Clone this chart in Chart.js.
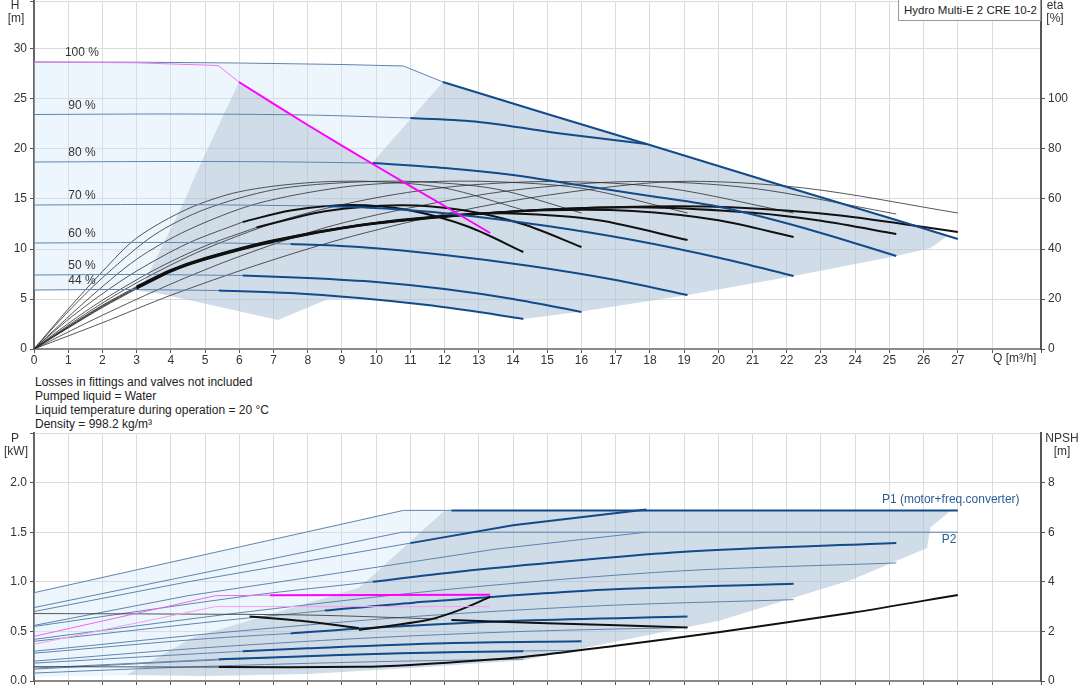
<!DOCTYPE html>
<html>
<head>
<meta charset="utf-8">
<script src="https://cdn.jsdelivr.net/npm/chart.js@4.4.1/dist/chart.umd.min.js"></script>
<style>
  body { margin: 0; background: #fff; font-family: "Liberation Sans", Arial, sans-serif; }
  #wrap { position: relative; width: 1082px; height: 700px; overflow: hidden; }
  canvas { position: absolute; left: 0; }
  #notes { position: absolute; left: 35px; top: 375px; font-size: 12px; line-height: 14px; color: #222; }
  #badge { position: absolute; left: 898px; top: -1px; width: 143px; height: 22px; border: 1px solid #999;
           background: #fff; font-size: 11.5px; line-height: 21px; padding-left: 5px; box-sizing: border-box;
           color: #222; white-space: nowrap; overflow: hidden; }
</style>
</head>
<body>
<div id="wrap">
  <canvas id="top" width="1082" height="372" style="top:0"></canvas>
  <div id="notes">
    Losses in fittings and valves not included<br>
    Pumped liquid = Water<br>
    Liquid temperature during operation = 20 °C<br>
    Density = 998.2 kg/m³
  </div>
  <canvas id="bot" width="1082" height="270" style="top:430px"></canvas>
  <div id="badge">Hydro Multi-E 2 CRE 10-2</div>
</div>
<script>
// ---- pump curves H(Q), [Q m3/h, H m], per speed ----
const speedLabels = ['100 %', '90 %', '80 %', '70 %', '60 %', '50 %', '44 %'];
const h100 = [[0,28.7],[3,28.68],[6,28.6],[9,28.45],[10.8,28.3],[11.95,26.7],[15,23.5],[18,20.4],[22.1,16.1],[25.2,12.9],[27,11.0]];
const h90 = [[0,23.45],[4,23.5],[8,23.4],[11,23.1],[13,22.7],[15.5,21.5],[17.9,20.5]];
const h80 = [[0,18.7],[4,18.75],[7,18.72],[9.9,18.6],[12,18.1],[14,17.4],[15.9,16.4],[18,15.3],[20.05,14.2],[22.5,12.1],[25.2,9.3]];
const h70 = [[0,14.4],[4,14.45],[8.5,14.3],[10.5,14.0],[12.5,13.4],[15,12.3],[17.5,10.9],[20.05,9.1],[22.2,7.3]];
const h60 = [[0,10.6],[4,10.65],[7.5,10.5],[9.5,10.2],[12,9.4],[14.5,8.3],[17,6.9],[19.1,5.4]];
const h50 = [[0,7.4],[3,7.45],[6.1,7.35],[8,7.1],[10,6.7],[12,6.0],[14,5.0],[16,3.7]];
const h44 = [[0,5.9],[2.5,5.95],[5.4,5.85],[7.5,5.6],[9.5,5.1],[11.5,4.4],[13,3.7],[14.3,3.0]];
const dutyH = [[0,28.7],[3,28.62],[5.38,28.35],[5.99,26.7],[8,22.4],[10,18.3],[12,14.3],[13.33,11.6]];

// ---- efficiency, [Q, eta %] : pump (thin) and total (thin, then thick) ----
const etaPump = [
  [[0,0],[1,16],[2,31],[3,44.4],[4.5,56.1],[6,62.9],[8,66.5],[9.9,67],[12,64.4],[14.3,55.6]],
  [[0,0],[1,15],[2,28.5],[3.5,45.5],[5,55.9],[7,63.7],[9,66.5],[11.1,67],[13.5,64.0],[16,54.4]],
  [[0,0],[1.5,19],[3,35.9],[4.5,47.6],[6.5,58.1],[9,64.7],[11,66.7],[13.3,67],[16,64.3],[19.1,54.4]],
  [[0,0],[1.5,14],[3,26.5],[5,40],[7.5,52.5],[10,60.5],[12.5,65.3],[15.4,67],[18.5,64.4],[22.2,54.4]],
  [[0,0],[2,13.5],[4,26],[6,37],[8.5,48.5],[11,56.5],[14,63.5],[17.5,67],[21,64.3],[25.2,54.0]],
  [[0,0],[2,10.5],[4,21.5],[6.5,33.5],[9,44],[12,54],[15,61.5],[18.75,67],[22.5,64.4],[27,54.4]]
];
const etaTotal = [
  [[0,0],[1,11.8],[2,22.1],[3,31.2],[4.5,42.3],[6.1,50.8],[7.5,55.4],[9.3,57.6],[11,55.4],[12.7,48.9],[14.3,38.8]],
  [[0,0],[1,10.2],[2,19.5],[3.5,31.5],[5,41.2],[6.5,48.6],[8.5,55.1],[10.7,57.5],[12.5,55.6],[14.3,49.9],[16,40.8]],
  [[0,0],[1,9],[2,17.5],[3,25],[4,31.6],[5,36.4],[7,43.5],[9.5,49.6],[12,53.3],[14,54.2],[16.5,51.5],[19.1,43.6]],
  [[0,0],[1,8.8],[2,17.2],[3,24.7],[4,31.4],[5,36.2],[7,43.3],[9.5,49.5],[12.2,53.3],[15,55.5],[17.5,55.2],[20,51.5],[22.2,44.8]],
  [[0,0],[1,8.6],[2,16.9],[3,24.4],[4,31.2],[5,36],[7,43.1],[9.5,49.4],[12.2,53.2],[15,55.8],[18,56.6],[21,54.5],[23,51.3],[25.2,46]],
  [[0,0],[1,8.4],[2,16.6],[3,24.1],[4,31],[5,35.8],[7,42.9],[9.5,49.3],[12.2,53.1],[15,55.8],[18,57],[20.5,56.6],[23.5,53.5],[27,46.8]]
];

// ---- areas of the H chart ----
const lightTop = [[0,28.7],[5,28.65],[10.8,28.3],[11.95,26.7],[9.88,18.6],[8,22.4],[5.99,26.7],[4.65,16.9],[4.41,14.9],[3.1,5.8],[0,5.9]];
const grayTop = [[3.1,5.8],[4.41,14.9],[4.65,16.9],[5.99,26.7],[8,22.4],[9.88,18.6],[11.95,26.7],[26.7,11.3],[26.2,10.1],[25.2,9.3],[22.2,7.3],[19.1,5.4],[16,3.75],[14.3,3.0],[13,3.7],[11.5,4.4],[9.5,5.1],[8.6,5.0],[7.13,2.9],[3.6,5.6]];

// ---- power, [Q, P kW] ----
const p1_100 = [[0,0.89],[10.8,1.72],[12.2,1.72],[27,1.72]];
const p2_100 = [[0,0.74],[10.75,1.50],[27,1.50]];
const p1_90 = [[0,0.70],[4.5,1.0],[9.5,1.30],[11,1.39],[14,1.57],[17.9,1.73]];
const p2_90 = [[0,0.56],[4.5,0.86],[9.5,1.12],[13.5,1.33],[17.9,1.50]];
const p1_80 = [[0,0.55],[6.3,0.86],[9.9,1.0],[12.6,1.11],[18.9,1.30],[25.2,1.39]];
const p2_80 = [[0,0.42],[6.3,0.70],[12.6,0.94],[18.9,1.11],[25.2,1.19]];
const p1_70 = [[0,0.40],[5.55,0.61],[8.5,0.71],[11.1,0.79],[16.65,0.92],[22.2,0.98]];
const p2_70 = [[0,0.30],[5.55,0.49],[11.1,0.65],[16.65,0.76],[22.2,0.82]];
const p1_60 = [[0,0.28],[4.78,0.42],[7.5,0.48],[9.55,0.53],[14.33,0.61],[19.1,0.65]];
const p2_60 = [[0,0.20],[4.78,0.33],[9.55,0.43],[14.33,0.50],[19.1,0.54]];
const p1_50 = [[0,0.18],[4,0.26],[6.1,0.30],[8,0.33],[12,0.38],[16,0.40]];
const p2_50 = [[0,0.12],[4,0.19],[8,0.25],[12,0.29],[16,0.31]];
const p1_44 = [[0,0.13],[3.58,0.19],[5.4,0.22],[7.15,0.24],[10.73,0.28],[14.3,0.30]];
const p2_44 = [[0,0.08],[3.58,0.13],[7.15,0.17],[10.73,0.20],[14.3,0.22]];
const dutyP1 = [[0,0.45],[5.3,0.86],[6.9,0.865],[13.33,0.87]];
const dutyP2 = [[0,0.37],[5.3,0.75],[13.33,0.75]];

// ---- NPSH, [Q, m] ----
const npshMain = [[0,0.58],[5.4,0.56],[9.5,0.57],[11,0.65],[14.3,0.97],[17,1.42],[20.05,1.98],[23.9,2.75],[27,3.47]];
const npshA = [[0,2.72],[4,2.7],[8,2.66],[11.8,2.5]];
const npshB = [[6.3,2.6],[8,2.4],[9.5,2.13]];
const npshC = [[12.2,2.46],[15,2.33],[19.1,2.16]];
const npshDuty = [[9.5,2.06],[11.5,2.46],[12.45,2.87],[13.33,3.39]];

// ---- areas of the P chart ----
const lightBot = [[0,0.89],[10.8,1.72],[12.0,1.72],[9.5,0.94],[4.65,0.44],[2.7,0.06],[0,0.04]];
const grayBot = [[2.7,0.06],[4.65,0.44],[9.5,0.94],[12.0,1.72],[26.8,1.72],[26.2,1.55],[26.1,1.34],[23.9,1.02],[20.05,0.61],[14.3,0.21],[11,0.13],[8,0.07],[5,0.05]];

// where the thin part of each curve turns thick
const hCurves = [h100, h90, h80, h70, h60, h50, h44];
const hThickFrom = [11.95, 11, 9.9, 8.5, 7.5, 6.1, 5.4];
const etaThickFrom = [6.1, 6.5, 3, 3, 3, 3];
const p1Curves = [p1_100, p1_90, p1_80, p1_70, p1_60, p1_50, p1_44];
const p2Curves = [p2_100, p2_90, p2_80, p2_70, p2_60, p2_50, p2_44];
const p1ThickFrom = [12.2, 11, 9.9, 8.5, 7.5, 6.1, 5.4];

const FONT = '"Liberation Sans", Arial, sans-serif';
const BLUE = '#124a8a';
const THIN_BLUE = '#5f84ad';
const THIN_BLACK = 'rgba(45,45,45,0.8)';
const qMax = 29.43;

Chart.defaults.font.family = FONT;
Chart.defaults.font.size = 12;
Chart.defaults.color = '#333';

function line(a, color, width, axis, order, tension) {
  return {
    data: a.map(([x, y]) => ({ x, y })),
    borderColor: color, borderWidth: width, pointRadius: 0, showLine: true,
    fill: false, tension: tension, yAxisID: axis, order: order
  };
}
function area(a, color, axis, order) {
  return {
    data: a.map(([x, y]) => ({ x, y })),
    backgroundColor: color, borderWidth: 0, borderColor: 'rgba(0,0,0,0)',
    pointRadius: 0, showLine: true, fill: 'shape', tension: 0, yAxisID: axis, order: order
  };
}
const before = (a, q) => a.filter(p => p[0] <= q);
const after = (a, q) => a.filter(p => p[0] >= q);

function noPad(s) {
  s.paddingTop = 0; s.paddingBottom = 0; s.paddingLeft = 0; s.paddingRight = 0;
}
function qScale(showLabels, height) {
  return {
    type: 'linear', min: 0, max: qMax,
    afterFit: s => { s.height = height; noPad(s); },
    ticks: {
      display: showLabels, stepSize: 1, autoSkip: false, maxRotation: 0, padding: 0, color: '#333',
      callback: v => (Number.isInteger(v) && v <= 27) ? v : ''
    },
    grid: { color: '#dcdcdc', tickColor: '#555', tickLength: 4 },
    border: { color: '#8a8a8a', width: 2 }
  };
}
function leftScale(max, step, fmt) {
  return {
    type: 'linear', position: 'left', min: 0, max: max,
    afterFit: s => { s.width = 34; noPad(s); },
    ticks: { stepSize: step, padding: 3, color: '#333', callback: fmt },
    grid: { color: '#dcdcdc', tickColor: '#555', tickLength: 4 },
    border: { color: '#666', width: 2 }
  };
}
function rightScale(max, step, top) {
  return {
    type: 'linear', position: 'right', min: 0, max: max,
    afterFit: s => { s.width = 41; noPad(s); },
    ticks: { stepSize: step, padding: 3, color: '#333', callback: v => v <= top ? v : '' },
    grid: { drawOnChartArea: false, tickLength: 4, tickColor: c => (c.tick && c.tick.value <= top) ? '#555' : 'rgba(0,0,0,0)' },
    border: { color: '#555', width: 2 }
  };
}

// ---------- H / eta chart ----------
const topSets = [];
topSets.push(area(lightTop, 'rgba(206,229,249,0.35)', 'y', 100));
topSets.push(area(grayTop, 'rgba(170,191,213,0.55)', 'y', 99));
etaPump.forEach(c => topSets.push(line(c, THIN_BLACK, 1, 'y2', 60, 0.3)));
etaTotal.forEach((c, i) => {
  topSets.push(line(before(c, etaThickFrom[i]), THIN_BLACK, 1, 'y2', 60, 0.3));
  topSets.push(line(after(c, etaThickFrom[i]), '#111', 2, 'y2', 30, 0.3));
});
hCurves.forEach((c, i) => {
  const t = i === 0 ? 0 : 0.3;
  topSets.push(line(before(c, hThickFrom[i]), THIN_BLUE, 1, 'y', 50, t));
  topSets.push(line(after(c, hThickFrom[i]), BLUE, 2, 'y', 20, t));
});
topSets.push(line(before(dutyH, 5.99), '#ee77ee', 1, 'y', 10, 0));
topSets.push(line(after(dutyH, 5.99), '#ff00ff', 2, 'y', 10, 0.2));

const topText = {
  id: 'topText',
  afterDraw(chart) {
    const { ctx, chartArea: a, scales: { x, y } } = chart;
    ctx.save();
    ctx.font = '12px ' + FONT;
    ctx.fillStyle = '#333';
    ctx.textBaseline = 'middle';
    ctx.textAlign = 'center';
    hCurves.forEach((c, i) => {
      ctx.fillText(speedLabels[i], x.getPixelForValue(1.4), y.getPixelForValue(c[0][1] + 0.9));
    });
    ctx.fillText('H', a.left - 19, a.top + 5);
    ctx.fillText('[m]', a.left - 18, a.top + 18);
    ctx.fillText('eta', a.right + 14, a.top + 5);
    ctx.fillText('[%]', a.right + 14, a.top + 18);
    ctx.textAlign = 'left';
    ctx.fillText('Q [m³/h]', x.getPixelForValue(28) + 1, a.bottom + 10);
    ctx.restore();
  }
};

new Chart(document.getElementById('top'), {
  type: 'scatter',
  data: { datasets: topSets },
  options: {
    responsive: false, animation: false, devicePixelRatio: 1,
    layout: { padding: { top: 1, left: 0, right: 0, bottom: 0 } },
    plugins: { legend: { display: false }, tooltip: { enabled: false } },
    scales: {
      x: qScale(true, 23),
      y: leftScale(34.8, 5, v => v % 5 === 0 ? v : ''),
      y2: rightScale(139.2, 20, 100)
    }
  },
  plugins: [topText]
});

// ---------- P / NPSH chart ----------
const botSets = [];
botSets.push(area(lightBot, 'rgba(206,229,249,0.35)', 'y', 100));
botSets.push(area(grayBot, 'rgba(170,191,213,0.55)', 'y', 99));
p2Curves.forEach((c, i) => botSets.push(line(c, THIN_BLUE, 1, 'y', 50, i < 2 ? 0 : 0.3)));
p1Curves.forEach((c, i) => {
  const t = i < 2 ? 0 : 0.3;
  botSets.push(line(before(c, p1ThickFrom[i]), THIN_BLUE, 1, 'y', 50, t));
  botSets.push(line(after(c, p1ThickFrom[i]), BLUE, 2, 'y', 20, t));
});
botSets.push(line(npshA, THIN_BLACK, 1, 'y2', 40, 0.3));
botSets.push(line(before(npshMain, 5.4), THIN_BLACK, 1, 'y2', 40, 0.3));
botSets.push(line(after(npshMain, 5.4), '#111', 2, 'y2', 15, 0.3));
botSets.push(line(npshB, '#111', 2, 'y2', 15, 0.3));
botSets.push(line(npshC, '#111', 2, 'y2', 15, 0.3));
botSets.push(line(npshDuty, '#111', 2, 'y2', 15, 0.3));
botSets.push(line(dutyP2, '#f0a0f0', 1, 'y', 10, 0));
botSets.push(line(before(dutyP1, 6.9), '#ee66ee', 1, 'y', 10, 0));
botSets.push(line(after(dutyP1, 6.9), '#ff00ff', 2, 'y', 10, 0));

const botText = {
  id: 'botText',
  afterDraw(chart) {
    const { ctx, chartArea: a, scales: { x, y } } = chart;
    ctx.save();
    ctx.font = '12px ' + FONT;
    ctx.fillStyle = '#333';
    ctx.textBaseline = 'middle';
    ctx.textAlign = 'center';
    ctx.fillText('P', a.left - 19, a.top + 6);
    ctx.fillText('[kW]', a.left - 18, a.top + 19);
    ctx.fillText('NPSH', a.right + 21, a.top + 6);
    ctx.fillText('[m]', a.right + 21, a.top + 19);
    ctx.textAlign = 'left';
    ctx.fillStyle = '#2d5d93';
    ctx.fillText('P1 (motor+freq.converter)', x.getPixelForValue(24.78), y.getPixelForValue(1.825));
    ctx.fillText('P2', x.getPixelForValue(26.53), y.getPixelForValue(1.42));
    ctx.restore();
  }
};

new Chart(document.getElementById('bot'), {
  type: 'scatter',
  data: { datasets: botSets },
  options: {
    responsive: false, animation: false, devicePixelRatio: 1,
    layout: { padding: { top: 3, left: 0, right: 0, bottom: 0 } },
    plugins: { legend: { display: false }, tooltip: { enabled: false } },
    scales: {
      x: qScale(false, 19),
      y: leftScale(2.5, 0.5, v => v <= 2 ? v.toFixed(1) : ''),
      y2: rightScale(10, 2, 8)
    }
  },
  plugins: [botText]
});
</script>
</body>
</html>
